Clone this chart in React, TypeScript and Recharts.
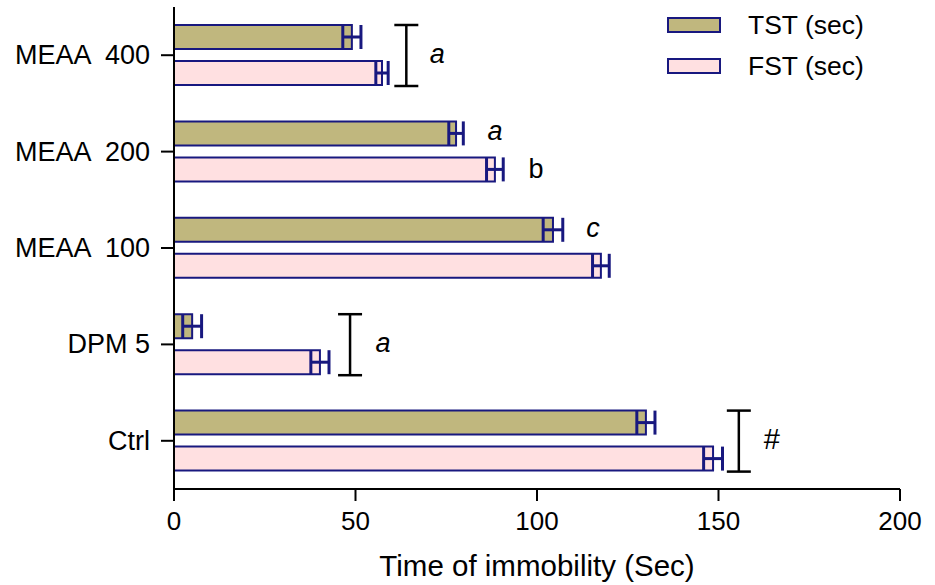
import React from "react";
import {
  BarChart,
  Bar,
  XAxis,
  YAxis,
  ErrorBar,
  LabelList,
  Legend,
} from "recharts";

const FONT = '"Liberation Sans", Arial, sans-serif';
const NAVY = "#18187f";
const TST_FILL = "#c0b77e";
const FST_FILL = "#ffe0e1";
const BAR = 24;
const GAP = 12;

const groups = ["MEAA  400", "MEAA  200", "MEAA  100", "DPM 5", "Ctrl"];
const tst = [49, 77.7, 104.4, 5, 130];
const tstErr = [2.5, 2, 2.7, 2.6, 2.5];
const fst = [57.3, 88.4, 117.6, 40.2, 148.5];
const fstErr = [1.7, 2.3, 2.3, 2.5, 2.6];
const xTicks = [0, 50, 100, 150, 200];

// significance marks, in data units along the x axis
const bracketAt = [64, null, null, 48.5, 155.6];
const bracketText = ["a", "", "", "a", "#"];
const bracketTextAt = [72.5, null, null, 57.6, 164.7];
const tstMark = ["", "a", "c", "", ""];
const tstMarkAt = [null, 88.4, 115.4, null, null];
const fstMark = ["", "b", "", "", ""];
const fstMarkAt = [null, 99.7, null, null, null];

const data = groups.map((g, i) => ({
  group: g,
  tst: tst[i],
  tstErr: tstErr[i],
  fst: fst[i],
  fstErr: fstErr[i],
}));

const isItalic = (t: string) => t === "a" || t === "c";

const noteText = (x: number, y: number, t: string, key: string) => (
  <text
    key={key}
    x={x}
    y={y}
    textAnchor="middle"
    dominantBaseline="central"
    fontFamily={FONT}
    fontSize={t === "#" ? 29 : 27}
    fontStyle={isItalic(t) ? "italic" : "normal"}
    fill="#000"
  >
    {t}
  </text>
);

const TstNote = (props: any) => {
  const vb = props.viewBox ?? props;
  const i = props.index;
  const t = tstMark[i];
  const at = tstMarkAt[i];
  if (!t || at == null) return null;
  const ppu = vb.width / tst[i];
  return noteText(vb.x + at * ppu, vb.y + vb.height / 2 - 2, t, "tn" + i);
};

const FstNote = (props: any) => {
  const vb = props.viewBox ?? props;
  const i = props.index;
  const ppu = vb.width / fst[i];
  const out: React.ReactNode[] = [];
  const b = bracketAt[i];
  if (b != null) {
    const bx = vb.x + b * ppu;
    const top = vb.y - GAP - BAR;
    const bottom = vb.y + vb.height + 1;
    out.push(
      <g key={"br" + i} stroke="#000" strokeWidth={2.5}>
        <line x1={bx} x2={bx} y1={top} y2={bottom} />
        <line x1={bx - 12} x2={bx + 12} y1={top} y2={top} />
        <line x1={bx - 12} x2={bx + 12} y1={bottom} y2={bottom} />
      </g>
    );
    const tx = vb.x + (bracketTextAt[i] as number) * ppu;
    out.push(noteText(tx, (top + bottom) / 2 - 2, bracketText[i], "bt" + i));
  }
  const fm = fstMarkAt[i];
  if (fstMark[i] && fm != null) {
    out.push(noteText(vb.x + fm * ppu, vb.y + vb.height / 2, fstMark[i], "fm" + i));
  }
  return <g>{out}</g>;
};

const GroupTick = (props: any) => {
  const { x, y, payload } = props;
  return (
    <text
      x={x}
      y={y}
      textAnchor="end"
      dominantBaseline="central"
      fontFamily={FONT}
      fontSize={27}
      fill="#000"
      style={{ whiteSpace: "pre" }}
    >
      {payload.value}
    </text>
  );
};

const LegendBox = () => {
  const rows = [
    { label: "TST (sec)", fill: TST_FILL },
    { label: "FST (sec)", fill: FST_FILL },
  ];
  return (
    <svg width={260} height={90}>
      {rows.map((r, i) => (
        <g key={r.label}>
          <rect x={8} y={13 + i * 41} width={52} height={14} fill={r.fill} stroke={NAVY} strokeWidth={2} />
          <text
            x={88}
            y={20 + i * 41}
            dominantBaseline="central"
            fontFamily={FONT}
            fontSize={26.5}
            fill="#000"
          >
            {r.label}
          </text>
        </g>
      ))}
    </svg>
  );
};

export default function App() {
  return (
    <div style={{ position: "absolute", left: 0, top: 0, width: 935, height: 585, background: "#fff" }}>
      <BarChart
        width={935}
        height={585}
        data={data}
        layout="vertical"
        margin={{ top: 7, right: 35, bottom: 0, left: 0 }}
        barSize={BAR}
        barGap={GAP}
      >
        <XAxis
          type="number"
          domain={[0, 200]}
          ticks={xTicks}
          height={96}
          tickSize={12}
          tickMargin={11}
          axisLine={{ stroke: "#000", strokeWidth: 2 }}
          tickLine={{ stroke: "#000", strokeWidth: 2 }}
          tick={{ fill: "#000", fontSize: 26, fontFamily: FONT }}
          label={{
            value: "Time of immobility (Sec)",
            position: "insideBottom",
            offset: 9,
            fill: "#000",
            fontSize: 29.5,
            fontFamily: FONT,
          }}
        />
        <YAxis
          type="category"
          dataKey="group"
          width={174}
          tickSize={13}
          tickMargin={11}
          axisLine={{ stroke: "#000", strokeWidth: 2 }}
          tickLine={{ stroke: "#000", strokeWidth: 2 }}
          tick={<GroupTick />}
        />
        <Legend
          layout="horizontal"
          verticalAlign="middle"
          align="center"
          wrapperStyle={{ top: 5, left: 660, width: 260 }}
          content={() => <LegendBox />}
        />
        <Bar dataKey="tst" name="TST (sec)" fill={TST_FILL} stroke={NAVY} strokeWidth={2} isAnimationActive={false}>
          <ErrorBar dataKey="tstErr" direction="x" width={12} stroke={NAVY} strokeWidth={3} />
          <LabelList dataKey="tst" content={TstNote} />
        </Bar>
        <Bar dataKey="fst" name="FST (sec)" fill={FST_FILL} stroke={NAVY} strokeWidth={2} isAnimationActive={false}>
          <ErrorBar dataKey="fstErr" direction="x" width={12} stroke={NAVY} strokeWidth={3} />
          <LabelList dataKey="fst" content={FstNote} />
        </Bar>
      </BarChart>
    </div>
  );
}
